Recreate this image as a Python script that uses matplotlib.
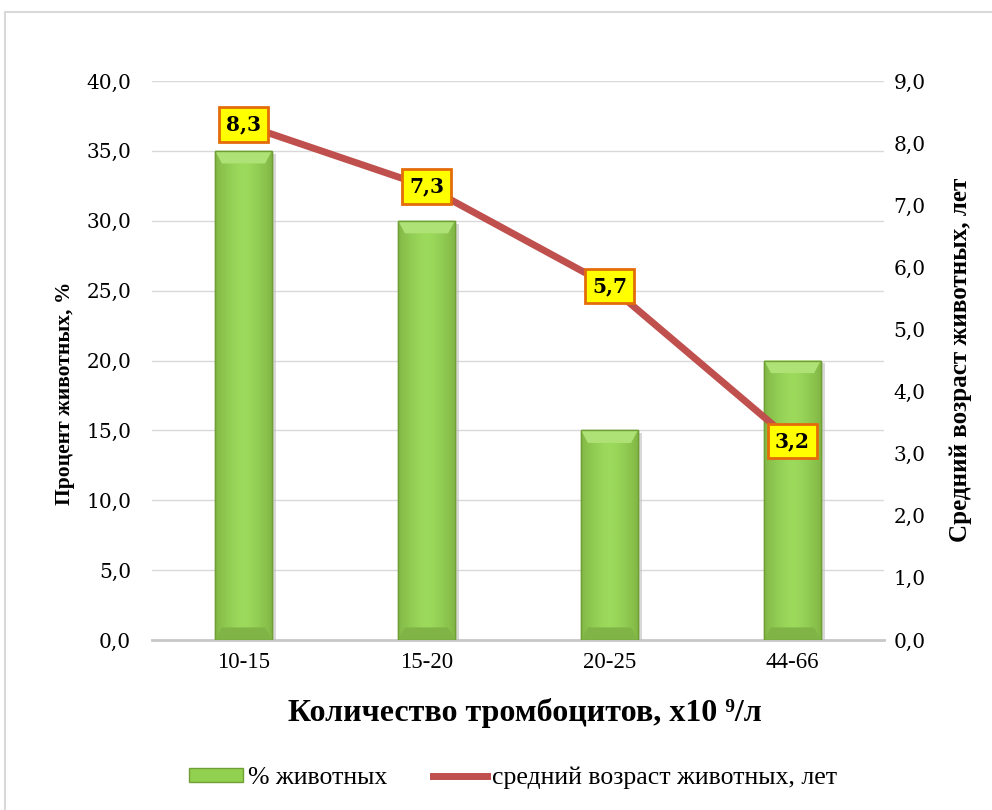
import matplotlib
matplotlib.use("Agg")
import matplotlib.pyplot as plt
import matplotlib.patheffects as pe
from matplotlib.patches import Rectangle
from matplotlib.lines import Line2D
import numpy as np

categories = ["10-15", "15-20", "20-25", "44-66"]
pct_animals = [35.0, 30.0, 15.0, 20.0]
mean_age = [8.3, 7.3, 5.7, 3.2]
left_ticks = [0, 5, 10, 15, 20, 25, 30, 35, 40]
right_ticks = [0, 1, 2, 3, 4, 5, 6, 7, 8, 9]

xlabel = "Количество тромбоцитов, x10 ⁹/л"
ylabel_left = "Процент животных, %"
ylabel_right = "Средний возраст животных, лет"
legend_bar = "% животных"
legend_line = "средний возраст животных, лет"

NUM = "DejaVu Serif"
CYR = ["Liberation Serif", "DejaVu Serif"]
plt.rcParams["font.family"] = "serif"
plt.rcParams["font.serif"] = ["Liberation Serif", "DejaVu Serif"]

fig = plt.figure(figsize=(9.92, 8.10), dpi=100)
fig.patches.append(Rectangle((5/992, -0.01), 1.0, 1 - 12/810 + 0.01,
                             transform=fig.transFigure, fill=False,
                             edgecolor="#D9D9D9", linewidth=1.5))

ax = fig.add_axes([152/992, 1 - 640/810, (884-152)/992, (640-81)/810])
ax2 = ax.twinx()

x = np.arange(len(categories))
bars = ax.bar(x, pct_animals, width=0.31, color="#92D050", edgecolor="#6F9F35",
              linewidth=1.0, zorder=3,
              path_effects=[pe.SimplePatchShadow(offset=(3, -2), shadow_rgbFace="#BFBFBF", alpha=0.6),
                            pe.Normal()])

grad = np.linspace(0, 1, 64)
prof = 1 - 0.35 * np.abs(grad - 0.5) ** 1.5 * 2
cmap = matplotlib.colors.LinearSegmentedColormap.from_list("g", ["#72A338", "#9CDA5C"])
for b in bars:
    x0, w, h = b.get_x(), b.get_width(), b.get_height()
    im = ax.imshow(prof[None, :], extent=[x0, x0 + w, 0, h], aspect="auto",
                   cmap=cmap, vmin=0.6, vmax=1.0, zorder=3.5, origin="lower")
    im.set_clip_path(b)
    bev = 0.9
    ax.fill([x0, x0 + w, x0 + w - w*0.12, x0 + w*0.12], [h, h, h - bev, h - bev],
            color="#AEE276", zorder=3.6, linewidth=0)
    ax.fill([x0, x0 + w, x0 + w - w*0.12, x0 + w*0.12], [0, 0, bev, bev],
            color="#80B446", zorder=3.6, linewidth=0)
    ax.add_patch(Rectangle((x0, 0), w, h, fill=False, edgecolor="#6F9F35", linewidth=1.0, zorder=3.7))

ax.set_xlim(-0.5, len(categories) - 0.5)
ax.set_ylim(0, 40)
ax.set_yticks(left_ticks)
ax.set_yticklabels([f"{v:.1f}".replace(".", ",") for v in left_ticks],
                   family=NUM, fontsize=14.5)
ax.set_xticks(x)
ax.set_xticklabels(categories, family="Liberation Serif", fontsize=16.5)
ax.tick_params(axis="y", length=0, pad=15)
ax.tick_params(axis="x", length=0, pad=9)
ax.yaxis.grid(True, color="#D9D9D9", linewidth=1.0, zorder=0)
ax.set_axisbelow(True)
for s in ["top", "right", "left"]:
    ax.spines[s].set_visible(False)
ax.spines["bottom"].set_color("#C8C8C8")
ax.spines["bottom"].set_linewidth(2)

ax2.plot(x, mean_age, color="#C0504D", linewidth=5, zorder=5, solid_capstyle="butt")
ax2.set_ylim(0, 9)
ax2.set_yticks(right_ticks)
ax2.set_yticklabels([f"{v:.1f}".replace(".", ",") for v in right_ticks],
                    family=NUM, fontsize=14.5)
ax2.tick_params(axis="y", length=0, pad=7)
for s in ["top", "right", "left", "bottom"]:
    ax2.spines[s].set_visible(False)

for xi, v in zip(x, mean_age):
    ax2.text(xi, v, f"{v:.1f}".replace(".", ","), ha="center", va="center",
             family=NUM, fontsize=14.5, fontweight="bold", zorder=6,
             bbox=dict(boxstyle="square,pad=0.36", facecolor="#FFFF00",
                       edgecolor="#E46C0A", linewidth=2))

fig.text(525/992, 1 - 713/810, xlabel, ha="center", va="center",
         family=CYR, fontsize=23, fontweight="bold")
fig.text(65/992, 1 - 393/810, ylabel_left, ha="center", va="center", rotation=90,
         family=CYR, fontsize=15.5, fontweight="bold")
fig.text(960/992, 1 - 360/810, ylabel_right, ha="center", va="center", rotation=90,
         family=CYR, fontsize=18, fontweight="bold")

handles = [Rectangle((0, 0), 1, 1, facecolor="#92D050", edgecolor="#6F9F35"),
           Line2D([0], [0], color="#C0504D", linewidth=5)]
leg = fig.legend(handles, [legend_bar, legend_line], loc="center",
                 bbox_to_anchor=(513/992, 1 - 778/810), ncol=2, frameon=False,
                 fontsize=18.5, handlelength=2.1, handleheight=0.45,
                 columnspacing=1.8, handletextpad=0.2)
for t in leg.get_texts():
    t.set_family(CYR)

fig.savefig("out.png", dpi=100)
